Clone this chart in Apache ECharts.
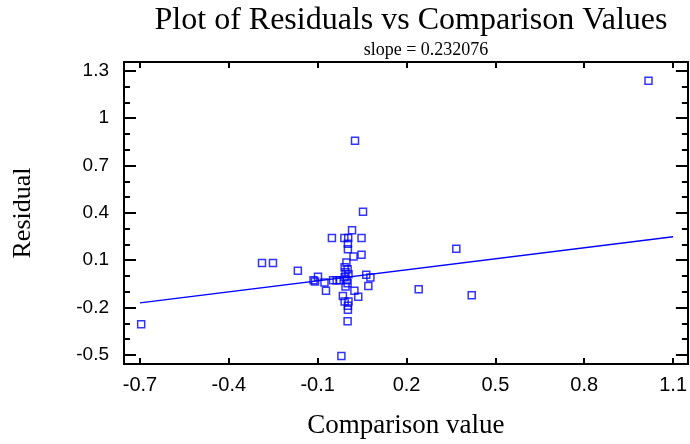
<!DOCTYPE html>
<html lang="en">
<head>
    <meta charset="UTF-8">
    <title>Residuals vs Comparison Values</title>
    <script src="https://cdn.jsdelivr.net/npm/echarts@6.0.0/dist/echarts.min.js"></script>
    <style>
        html, body { margin: 0; padding: 0; background: #fff; }
        #chart { width: 690px; height: 444px; }
    </style>
</head>
<body>
<div id="chart"></div>
<script>
    // comparison values (x) and residuals (y)
    var compValues = [
        -0.696, 1.017, 0.026, 0.053, 0.016, -0.052, -0.010, 0.003, 0.048, 0.002,
        0.002, 0.048, 0.021, -0.288, -0.251, -0.167, -0.099, -0.114, -0.109, -0.077,
        -0.072, -0.015, -0.009, 0.004, 0.002, 0.002, 0.001, -0.020, 0.024, 0.037,
        0.064, 0.078, 0.071, 0.368, 0.241, 0.420,
        -0.003, -0.009, 0.001, -0.006, 0.004, -0.009, -0.002, 0.001, -0.006,
        -0.048, -0.036, -0.026
    ];
    var residuals = [
        -0.306, 1.237, 0.857, 0.407, 0.289, 0.240, 0.240, 0.240, 0.240, 0.205,
        0.169, 0.135, 0.123, 0.082, 0.082, 0.034, -0.004, -0.027, -0.035, -0.041,
        -0.094, -0.126, -0.161, -0.161, -0.189, -0.214, -0.287, -0.506, -0.094, -0.132,
        0.008, -0.010, -0.063, 0.173, -0.084, -0.121,
        0.085, 0.055, 0.043, 0.024, 0.011, -0.008, -0.027, -0.046, -0.067,
        -0.027, -0.027, -0.026
    ];
    // fitted line end points
    var lineX = [-0.7, 1.1];
    var lineY = [-0.170, 0.248];

    var xTicks = [-0.7, -0.4, -0.1, 0.2, 0.5, 0.8, 1.1];
    var yTicks = [-0.5, -0.2, 0.1, 0.4, 0.7, 1, 1.3];
    var yMinorTicks = [-0.5, -0.4, -0.3, -0.2, -0.1, 0, 0.1, 0.2, 0.3, 0.4, 0.5, 0.6, 0.7, 0.8, 0.9, 1, 1.1, 1.2, 1.3];

    var points = compValues.map(function (x, i) { return [x, residuals[i]]; });
    var linePts = lineX.map(function (x, i) { return [x, lineY[i]]; });

    var xMin = -0.754, xMax = 1.15, yMin = -0.557, yMax = 1.355;
    var black = '#000';
    var serif = '"Liberation Serif", "Times New Roman", serif';
    var sans = '"Liberation Sans", Arial, sans-serif';

    function xAx(pos, show) {
        return {
            type: 'value', position: pos, min: xMin, max: xMax,
            axisLine: { show: true, onZero: false, lineStyle: { color: black, width: 2 } },
            axisTick: { show: true, inside: true, length: 6, customValues: xTicks, lineStyle: { color: black, width: 2 } },
            axisLabel: { show: show, customValues: xTicks, color: black, fontFamily: sans, fontSize: 20, margin: 11 },
            splitLine: { show: false }
        };
    }
    function yAx(pos, ticks, len, show) {
        return {
            type: 'value', position: pos, min: yMin, max: yMax,
            axisLine: { show: true, onZero: false, lineStyle: { color: black, width: 2 } },
            axisTick: { show: true, inside: true, length: len, customValues: ticks, lineStyle: { color: black, width: 2 } },
            axisLabel: { show: show, customValues: yTicks, color: black, fontFamily: sans, fontSize: 19, margin: 15 },
            splitLine: { show: false }
        };
    }

    var bottomX = xAx('bottom', true);
    bottomX.name = 'Comparison value';
    bottomX.nameLocation = 'middle';
    bottomX.nameGap = 48;
    bottomX.nameTextStyle = { color: black, fontFamily: serif, fontSize: 27 };

    var leftY = yAx('left', yTicks, 12, true);
    leftY.name = 'Residual';
    leftY.nameLocation = 'middle';
    leftY.nameGap = 88;
    leftY.nameTextStyle = { color: black, fontFamily: serif, fontSize: 26 };

    var chart = echarts.init(document.getElementById('chart'));
    chart.setOption({
        animation: false,
        title: [
            {
                text: 'Plot of Residuals vs Comparison Values',
                left: 406, top: 0, textAlign: 'center',
                textStyle: { color: black, fontFamily: serif, fontSize: 32, fontWeight: 'normal' }
            },
            {
                text: 'slope = 0.232076',
                left: 421, top: 36, textAlign: 'center',
                textStyle: { color: black, fontFamily: serif, fontSize: 18, fontWeight: 'normal' }
            }
        ],
        grid: { left: 124, right: 1, top: 62, bottom: 79 },
        xAxis: [bottomX, xAx('top', false)],
        yAxis: [
            leftY,
            yAx('left', yMinorTicks, 6, false),
            yAx('right', yTicks, 12, false),
            yAx('right', yMinorTicks, 6, false)
        ],
        series: [
            {
                type: 'line',
                data: linePts,
                symbol: 'none',
                lineStyle: { color: '#0000ff', width: 1.5 },
                z: 2
            },
            {
                type: 'scatter',
                data: points,
                symbol: 'rect',
                symbolSize: 7,
                itemStyle: { color: 'rgba(0,0,0,0)', borderColor: '#0000ff', borderWidth: 1.5 },
                z: 3
            }
        ]
    });
</script>
</body>
</html>
